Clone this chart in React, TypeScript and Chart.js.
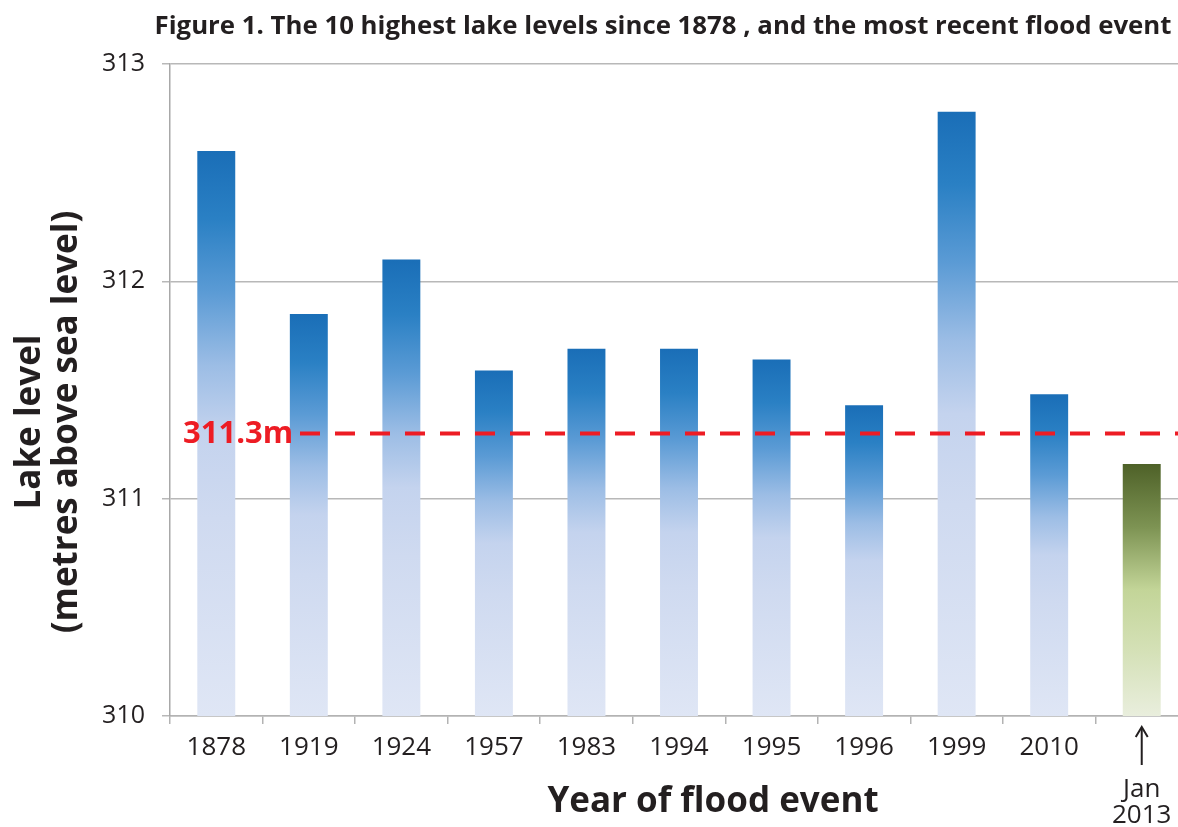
import React, { useEffect, useRef } from "react";
import { Chart, registerables } from "chart.js";

Chart.register(...registerables);

const years = ["1878", "1919", "1924", "1957", "1983", "1994", "1995", "1996", "1999", "2010", "Jan 2013"];
const lakeLevels = [312.6, 311.85, 312.1, 311.59, 311.69, 311.69, 311.64, 311.43, 312.78, 311.48, 311.16];
const recentEventIndex = 10;
const floodThreshold = 311.3;
const thresholdLabel = "311.3m";
const yTicks = [310, 311, 312, 313];
const chartTitle = "Figure 1. The 10 highest lake levels since 1878 , and the most recent flood event";
const yTitleLines = ["Lake level", "(metres above sea level)"];
const xTitle = "Year of flood event";

const FONT = '"Open Sans", "DejaVu Sans", sans-serif';
const TEXT = "#231f20";

const annotations = {
  id: "annotations",
  afterDatasetsDraw(chart: any) {
    const { ctx, chartArea, scales } = chart;
    const y = scales.y;
    ctx.save();
    const ty = y.getPixelForValue(floodThreshold);
    ctx.strokeStyle = "#ed1c24";
    ctx.lineWidth = 4;
    ctx.setLineDash([20, 15]);
    ctx.beginPath();
    ctx.moveTo(chartArea.left + 130, ty);
    ctx.lineTo(chartArea.right, ty);
    ctx.stroke();
    ctx.setLineDash([]);
    ctx.fillStyle = "#ed1c24";
    ctx.font = `bold 31px ${FONT}`;
    ctx.textAlign = "left";
    ctx.textBaseline = "middle";
    ctx.fillText(thresholdLabel, chartArea.left + 13, ty + 1);
    ctx.restore();
  },
  afterDraw(chart: any) {
    const { ctx, chartArea, scales } = chart;
    const x = scales.x;
    ctx.save();
    ctx.fillStyle = TEXT;
    ctx.font = `bold 25.8px ${FONT}`;
    ctx.textAlign = "center";
    ctx.textBaseline = "middle";
    ctx.fillText(chartTitle, (chartArea.left + chartArea.right) / 2 - 16, 27);
    ctx.font = `bold 35px ${FONT}`;
    ctx.fillText(xTitle, (chartArea.left + chartArea.right) / 2 + 34, 802);
    ctx.save();
    ctx.translate(0, (chartArea.top + chartArea.bottom) / 2 + 32);
    ctx.rotate(-Math.PI / 2);
    ctx.font = `bold 35px ${FONT}`;
    ctx.fillText(yTitleLines[0], 0, 30);
    ctx.fillText(yTitleLines[1], 0, 67);
    ctx.restore();
    const ax = x.getPixelForValue(recentEventIndex);
    ctx.strokeStyle = TEXT;
    ctx.lineWidth = 2;
    ctx.beginPath();
    ctx.moveTo(ax, chartArea.bottom + 49);
    ctx.lineTo(ax, chartArea.bottom + 12);
    ctx.stroke();
    ctx.beginPath();
    ctx.moveTo(ax - 6, chartArea.bottom + 21);
    ctx.lineTo(ax, chartArea.bottom + 11);
    ctx.lineTo(ax + 6, chartArea.bottom + 21);
    ctx.stroke();
    ctx.restore();
  },
};

function barFill(c: any) {
  const chart = c.chart;
  const y = chart.scales?.y;
  const v = lakeLevels[c.dataIndex];
  if (!y || v == null) return "#5b9bd5";
  const top = y.getPixelForValue(v);
  const bottom = y.getPixelForValue(y.min);
  if (!isFinite(top) || !isFinite(bottom) || top === bottom) return "#5b9bd5";
  const g = chart.ctx.createLinearGradient(0, top, 0, bottom);
  if (c.dataIndex === recentEventIndex) {
    g.addColorStop(0, "#4e6128");
    g.addColorStop(0.25, "#7d9353");
    g.addColorStop(0.5, "#c3d598");
    g.addColorStop(0.75, "#d5e1b8");
    g.addColorStop(1, "#e9eedd");
  } else {
    g.addColorStop(0, "#1a6eb7");
    g.addColorStop(0.12, "#2a80c4");
    g.addColorStop(0.25, "#5b9bd5");
    g.addColorStop(0.38, "#9cbde5");
    g.addColorStop(0.5, "#c4d3ee");
    g.addColorStop(0.65, "#cfdaf0");
    g.addColorStop(1, "#dfe6f5");
  }
  return g;
}

export default function App() {
  const ref = useRef<HTMLCanvasElement | null>(null);
  useEffect(() => {
    if (!ref.current) return;
    const chart = new Chart(ref.current, {
      type: "bar",
      data: {
        labels: years,
        datasets: [
          {
            data: lakeLevels,
            backgroundColor: barFill,
            borderWidth: 0,
            barPercentage: 0.41,
            categoryPercentage: 1,
          },
        ],
      },
      options: {
        responsive: false,
        animation: false,
        layout: { padding: { top: 64, right: 2, left: 0, bottom: 0 } },
        plugins: {
          legend: { display: false },
          title: { display: false },
          tooltip: { enabled: false },
        },
        scales: {
          x: {
            grid: {
              offset: true,
              drawOnChartArea: false,
              drawTicks: true,
              tickLength: 8,
              color: "#b3b3b3",
              lineWidth: 1.5,
            },
            border: { display: true, color: "#b3b3b3", width: 1.5 },
            ticks: {
              color: TEXT,
              padding: 1,
              autoSkip: false,
              maxRotation: 0,
              font: (c: any) =>
                c.index === recentEventIndex
                  ? { family: FONT, size: 26, lineHeight: "26px" }
                  : { family: FONT, size: 26, lineHeight: "46px" },
              callback: (_v: any, i: number) => {
                const l = years[i];
                return i === recentEventIndex ? ["", "", ...l.split(" ")] : l;
              },
            },
            afterFit: (s: any) => {
              s.height = 111;
            },
          },
          y: {
            min: yTicks[0],
            max: yTicks[yTicks.length - 1],
            afterBuildTicks: (s: any) => {
              s.ticks = yTicks.map((v) => ({ value: v }));
            },
            grid: {
              color: "#b8b8b8",
              lineWidth: 1.5,
              tickLength: 8,
            },
            border: { display: true, color: "#a8a8a8", width: 1.5 },
            ticks: {
              color: TEXT,
              padding: 17,
              font: { family: FONT, size: 25 },
            },
            afterFit: (s: any) => {
              s.width = 170;
            },
          },
        },
      },
      plugins: [annotations],
    });
    if ((document as any).fonts?.load) {
      Promise.all([
        (document as any).fonts.load(`24px ${FONT}`),
        (document as any).fonts.load(`bold 30px ${FONT}`),
      ]).then(() => chart.update()).catch(() => {});
    }
    return () => chart.destroy();
  }, []);
  return (
    <div style={{ position: "absolute", left: 0, top: 0, width: 1178, height: 827, overflow: "hidden", background: "#fff" }}>
      <canvas ref={ref} width={1190} height={827} style={{ width: 1190, height: 827, display: "block" }} />
    </div>
  );
}
